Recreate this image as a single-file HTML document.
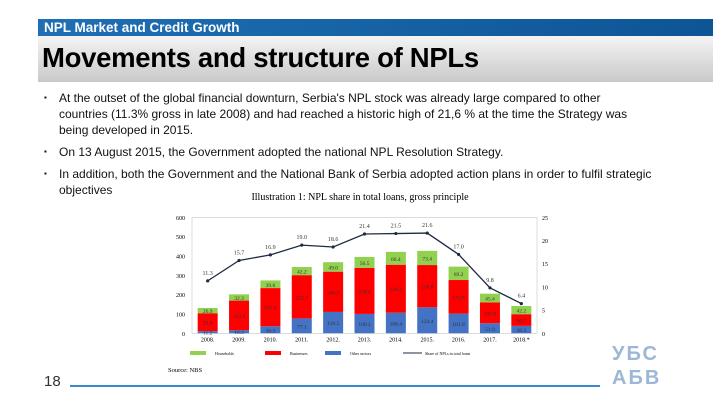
<!DOCTYPE html>
<html><head><meta charset="utf-8"><style>
body{margin:0;width:720px;height:405px;background:#fff;font-family:"Liberation Sans",sans-serif;position:relative;overflow:hidden}
#hdr{position:absolute;left:38px;top:19px;width:675px;height:17px;background:linear-gradient(90deg,#1f6fb5,#0d5595);color:#fff;font-size:13.5px;font-weight:bold;line-height:17px;padding-left:6px;box-sizing:border-box}
#title{position:absolute;left:38px;top:36px;width:675px;height:46px;background:linear-gradient(#f4f4f4,#c9c9c9);font-size:27.5px;font-weight:bold;line-height:44px;padding-left:4px;box-sizing:border-box;letter-spacing:-0.3px}
ul{position:absolute;left:42px;top:90px;width:610px;margin:0;padding:0;list-style:none;font-size:12px;line-height:16px;color:#111}
li{position:relative;padding-left:17px;margin-bottom:6px}
li:before{content:"▪";position:absolute;left:2px;font-size:8px}
#pn{position:absolute;left:44px;top:373px;font-size:15px;color:#333}
#bl{position:absolute;left:70px;top:385px;width:530px;height:2px;background:#3a8ad0}
#logo{position:absolute;left:612px;top:342px;font-size:20px;color:#9cb8d6;line-height:24px;font-weight:bold;letter-spacing:2px}
</style></head><body>
<div id="hdr">NPL Market and Credit Growth</div>
<div id="title">Movements and structure of NPLs</div>
<ul>
<li>At the outset of the global financial downturn, Serbia's NPL stock was already large compared to other countries (11.3% gross in late 2008) and had reached a historic high of 21,6 % at the time the Strategy was being developed in 2015.</li>
<li>On 13 August 2015, the Government adopted the national NPL Resolution Strategy.</li>
<li>In addition, both the Government and the National Bank of Serbia adopted action plans in order to fulfil strategic objectives</li>
</ul>
<svg id="chart" style="position:absolute;left:160px;top:190px" width="400" height="190" font-family="Liberation Serif,serif"></svg>
<div id="pn">18</div>
<div id="bl"></div>
<div id="logo">УБС<br>АБВ</div>
<script>
const categories=["2008.","2009.","2010.","2011.","2012.","2013.","2014.","2015.","2016.","2017.","2018.*"];
const others=[11.2,16.3,36.3,77.1,110.5,100.2,106.4,134.4,101.8,51.9,38.3];
const businesses=[92.8,153.0,197.6,223.7,208.3,238.4,248.4,218.6,173.8,107.6,60.7];
const households=[26.9,32.3,39.6,42.2,49.0,56.5,66.4,73.4,69.2,45.4,42.2];
const nplShare=[11.3,15.7,16.9,19.0,18.6,21.4,21.5,21.6,17.0,9.8,6.4];
const leftTicks=[0,100,200,300,400,500,600];
const rightTicks=[0,5,10,15,20,25];
const svg=document.getElementById('chart');const NS='http://www.w3.org/2000/svg';
function mk(t,a,txt){const e=document.createElementNS(NS,t);for(const k in a)e.setAttribute(k,a[k]);if(txt!=null)e.textContent=txt;svg.appendChild(e);return e;}
const x0=32,x1=377,yb=143.3,yt=27.3;
const yL=v=>yb-(v/600)*(yb-yt), yR=v=>yb-(v/25)*(yb-yt);
const step=(x1-x0)/categories.length, xc=i=>x0+step*(i+0.5), bw=20;
let e=mk('text',{x:200,y:10,'font-size':10,'text-anchor':'middle'},'Illustration 1: NPL share in total loans, gross principle');

e=mk('rect',{x:x0,y:yt,width:x1-x0,height:yb-yt,fill:'none',stroke:'#bbb','stroke-width':0.5});

leftTicks.forEach(v=>{e=mk('text',{x:x0-7,y:yL(v)+2.5,'font-size':6,'text-anchor':'end'},v);
});
rightTicks.forEach(v=>{e=mk('text',{x:x1+5,y:yR(v)+2.5,'font-size':6},v);
});
categories.forEach((c,i)=>{
 const x=xc(i)-bw/2;let base=0;
 [[others,'#4472c4','bar-other-sectors'],[businesses,'#ff0000','bar-businesses'],[households,'#92d050','bar-households']].forEach(([arr,col,n])=>{
  const v=arr[i];const r=mk('rect',{x:x,y:yL(base+v),width:bw,height:yL(base)-yL(base+v),fill:col});
  
  const t=mk('text',{x:xc(i),y:(yL(base)+yL(base+v))/2+2.5,'font-size':5.5,'text-anchor':'middle',fill:'#333'},v.toFixed(1));
  
  base+=v;});
 const t=mk('text',{x:xc(i),y:yb+8,'font-size':6,'text-anchor':'middle'},c);
 
});
e=mk('polyline',{points:nplShare.map((v,i)=>xc(i)+','+yR(v)).join(' '),fill:'none',stroke:'#1f2a44','stroke-width':1.3});

nplShare.forEach((v,i)=>{e=mk('circle',{cx:xc(i),cy:yR(v),r:1.6,fill:'#1f2a44'});

e=mk('text',{x:xc(i),y:yR(v)-6,'font-size':6,'text-anchor':'middle',fill:'#333'},v.toFixed(1));
});
[['#92d050','Households',30],['#ff0000','Businesses',105],['#4472c4','Other sectors',165]].forEach(([c,l,x])=>{
 e=mk('rect',{x:x,y:161,width:16,height:4,fill:c});
 e=mk('text',{x:x+25,y:165,'font-size':4},l);});
e=mk('line',{x1:243,y1:163,x2:262,y2:163,stroke:'#1f2a44','stroke-width':1});
e=mk('text',{x:265,y:165,'font-size':4},'Share of NPLs in total loans');
e=mk('text',{x:8,y:182,'font-size':6.5},'Source: NBS');
</script>
</body></html>
